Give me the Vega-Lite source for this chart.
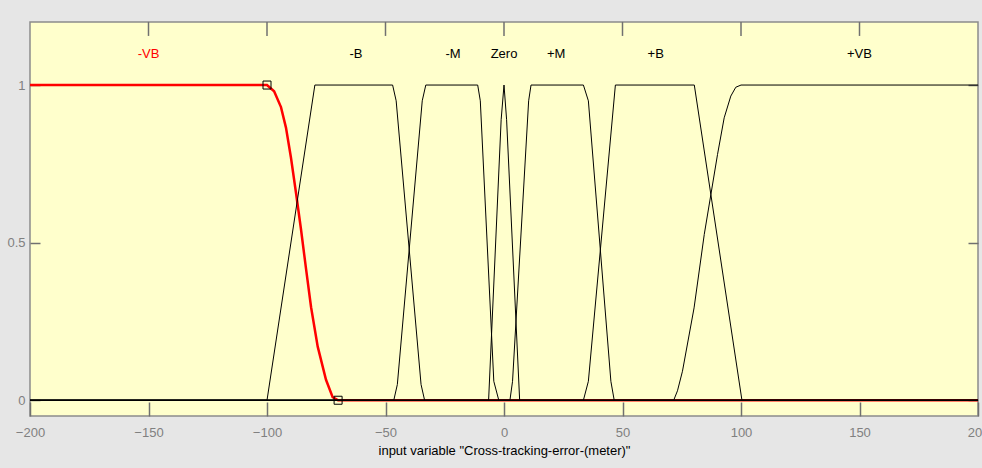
{
  "$schema": "https://vega.github.io/schema/vega-lite/v6.json",
  "width": 948,
  "height": 394,
  "autosize": {"type": "none"},
  "padding": {"left": 30, "top": 22, "right": 4, "bottom": 52},
  "background": "#e6e6e6",
  "config": {
    "view": {"fill": "#ffffcc", "stroke": "#8c8c8c", "strokeWidth": 1.5},
    "axis": {
      "domain": false,
      "grid": false,
      "labelFont": "Liberation Sans",
      "labelFontSize": 13,
      "labelColor": "#808080",
      "tickColor": "#707070",
      "tickWidth": 1.5,
      "titleFont": "Liberation Sans",
      "titleFontSize": 13,
      "titleFontWeight": "normal",
      "titleColor": "#000000"
    }
  },
  "datasets": {
    "mf": [
      {"mf": "-VB", "x": -200, "y": 1},
      {"mf": "-VB", "x": -100, "y": 1},
      {"mf": "-VB", "x": -97, "y": 0.98},
      {"mf": "-VB", "x": -94.1, "y": 0.93},
      {"mf": "-VB", "x": -92, "y": 0.865},
      {"mf": "-VB", "x": -89.9, "y": 0.77},
      {"mf": "-VB", "x": -87.8, "y": 0.66},
      {"mf": "-VB", "x": -85.7, "y": 0.545},
      {"mf": "-VB", "x": -83.5, "y": 0.415},
      {"mf": "-VB", "x": -81.4, "y": 0.295},
      {"mf": "-VB", "x": -78.6, "y": 0.17},
      {"mf": "-VB", "x": -75.1, "y": 0.065},
      {"mf": "-VB", "x": -72.3, "y": 0.01},
      {"mf": "-VB", "x": -70, "y": 0},
      {"mf": "-VB", "x": 200, "y": 0},
      {"mf": "-B", "x": -200, "y": 0},
      {"mf": "-B", "x": -100, "y": 0},
      {"mf": "-B", "x": -79.8, "y": 1},
      {"mf": "-B", "x": -47, "y": 1},
      {"mf": "-B", "x": -45.5, "y": 0.95},
      {"mf": "-B", "x": -35, "y": 0.05},
      {"mf": "-B", "x": -33.5, "y": 0},
      {"mf": "-B", "x": 200, "y": 0},
      {"mf": "-M", "x": -200, "y": 0},
      {"mf": "-M", "x": -46.5, "y": 0},
      {"mf": "-M", "x": -45, "y": 0.05},
      {"mf": "-M", "x": -34.5, "y": 0.95},
      {"mf": "-M", "x": -33, "y": 1},
      {"mf": "-M", "x": -11.1, "y": 1},
      {"mf": "-M", "x": -10, "y": 0.95},
      {"mf": "-M", "x": -4.3, "y": 0.06},
      {"mf": "-M", "x": -2.2, "y": 0},
      {"mf": "-M", "x": 200, "y": 0},
      {"mf": "Zero", "x": -200, "y": 0},
      {"mf": "Zero", "x": -6.5, "y": 0},
      {"mf": "Zero", "x": -1.2, "y": 0.89},
      {"mf": "Zero", "x": 0, "y": 1},
      {"mf": "Zero", "x": 1.1, "y": 0.89},
      {"mf": "Zero", "x": 6.6, "y": 0},
      {"mf": "Zero", "x": 200, "y": 0},
      {"mf": "+M", "x": -200, "y": 0},
      {"mf": "+M", "x": 2.5, "y": 0},
      {"mf": "+M", "x": 3.6, "y": 0.06},
      {"mf": "+M", "x": 10.4, "y": 0.95},
      {"mf": "+M", "x": 11.4, "y": 1},
      {"mf": "+M", "x": 33.5, "y": 1},
      {"mf": "+M", "x": 35.6, "y": 0.95},
      {"mf": "+M", "x": 45.1, "y": 0.06},
      {"mf": "+M", "x": 46.5, "y": 0},
      {"mf": "+M", "x": 200, "y": 0},
      {"mf": "+B", "x": -200, "y": 0},
      {"mf": "+B", "x": 33.5, "y": 0},
      {"mf": "+B", "x": 35.6, "y": 0.06},
      {"mf": "+B", "x": 47, "y": 1},
      {"mf": "+B", "x": 80.3, "y": 1},
      {"mf": "+B", "x": 100.4, "y": 0},
      {"mf": "+B", "x": 200, "y": 0},
      {"mf": "+VB", "x": -200, "y": 0},
      {"mf": "+VB", "x": 71.6, "y": 0},
      {"mf": "+VB", "x": 73.2, "y": 0.03},
      {"mf": "+VB", "x": 75.3, "y": 0.092},
      {"mf": "+VB", "x": 80.2, "y": 0.293},
      {"mf": "+VB", "x": 84.5, "y": 0.526},
      {"mf": "+VB", "x": 87.3, "y": 0.653},
      {"mf": "+VB", "x": 90.1, "y": 0.78},
      {"mf": "+VB", "x": 92.9, "y": 0.896},
      {"mf": "+VB", "x": 95.7, "y": 0.965},
      {"mf": "+VB", "x": 97.8, "y": 0.993},
      {"mf": "+VB", "x": 100, "y": 1},
      {"mf": "+VB", "x": 200, "y": 1}
    ],
    "labels": [
      {"mf": "-VB", "x": -150, "y": 1.1},
      {"mf": "-B", "x": -62.5, "y": 1.1},
      {"mf": "-M", "x": -21.5, "y": 1.1},
      {"mf": "Zero", "x": 0, "y": 1.1},
      {"mf": "+M", "x": 22, "y": 1.1},
      {"mf": "+B", "x": 64, "y": 1.1},
      {"mf": "+VB", "x": 150, "y": 1.1}
    ],
    "handles": [
      {"x": -100, "y": 1},
      {"x": -70, "y": 0}
    ],
    "topmarks": [
      {"xv": -150}, {"xv": -100}, {"xv": -50}, {"xv": 0}, {"xv": 50}, {"xv": 100}, {"xv": 150}
    ]
  },
  "layer": [
    {
      "data": {"name": "mf"},
      "transform": [{"filter": "datum.mf === '-VB'"}],
      "mark": {"type": "line", "color": "#ff0000", "strokeWidth": 2.5},
      "encoding": {
        "x": {
          "field": "x", "type": "quantitative",
          "scale": {"domain": [-200, 200], "nice": false, "zero": false},
          "axis": {
            "orient": "bottom",
            "values": [-200, -150, -100, -50, 0, 50, 100, 150, 200],
            "tickSize": -14,
            "labelPadding": 24,
            "labelFlush": false,
            "labelOverlap": false,
            "labelBound": false,
            "title": "input variable \"Cross-tracking-error-(meter)\"",
            "titlePadding": 5
          }
        },
        "y": {
          "field": "y", "type": "quantitative",
          "scale": {"domain": [-0.05, 1.2], "nice": false, "zero": false},
          "axis": {
            "orient": "left",
            "values": [0, 0.5, 1],
            "format": "~g",
            "tickSize": -10,
            "labelPadding": 15,
            "title": null
          }
        }
      }
    },
    {
      "data": {"name": "mf"},
      "transform": [{"filter": "datum.mf !== '-VB'"}],
      "mark": {"type": "line", "color": "#000000", "strokeWidth": 1},
      "encoding": {
        "detail": {"field": "mf"},
        "x": {"field": "x", "type": "quantitative", "axis": null},
        "y": {
          "field": "y", "type": "quantitative",
          "axis": {
            "orient": "right",
            "values": [0, 0.5, 1],
            "tickSize": -10,
            "labels": false,
            "title": null
          }
        }
      }
    },
    {
      "data": {"name": "topmarks"},
      "mark": {"type": "tick", "orient": "vertical", "color": "#707070", "size": 14, "thickness": 1.5, "opacity": 1},
      "encoding": {
        "x": {"field": "xv", "type": "quantitative", "axis": null},
        "y": {"datum": 1.178, "type": "quantitative", "axis": null}
      }
    },
    {
      "data": {"name": "handles"},
      "mark": {"type": "point", "shape": "square", "size": 64, "filled": false, "stroke": "#000000", "strokeWidth": 1, "opacity": 1},
      "encoding": {
        "x": {"field": "x", "type": "quantitative", "axis": null},
        "y": {"field": "y", "type": "quantitative", "axis": null}
      }
    },
    {
      "data": {"name": "labels"},
      "mark": {"type": "text", "font": "Liberation Sans", "fontSize": 13, "baseline": "middle", "align": "center"},
      "encoding": {
        "x": {"field": "x", "type": "quantitative", "axis": null},
        "y": {"field": "y", "type": "quantitative", "axis": null},
        "text": {"field": "mf"},
        "color": {
          "field": "mf", "type": "nominal",
          "scale": {"domain": ["-VB", "-B", "-M", "Zero", "+M", "+B", "+VB"], "range": ["#ff0000", "#000000", "#000000", "#000000", "#000000", "#000000", "#000000"]},
          "legend": null
        }
      }
    }
  ],
  "resolve": {"axis": {"x": "independent", "y": "independent"}}
}
